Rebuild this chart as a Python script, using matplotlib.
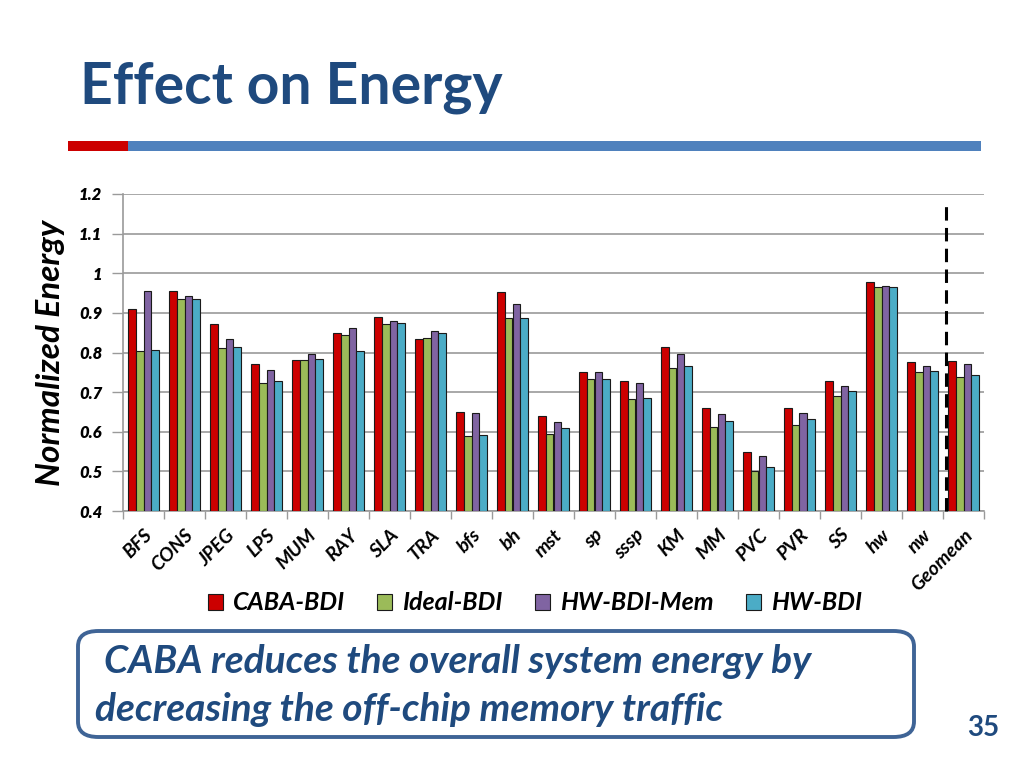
import matplotlib
matplotlib.use("Agg")
import matplotlib.pyplot as plt
import numpy as np
from matplotlib.patches import FancyBboxPatch, Rectangle

categories = ["BFS", "CONS", "JPEG", "LPS", "MUM", "RAY", "SLA", "TRA", "bfs", "bh",
              "mst", "sp", "sssp", "KM", "MM", "PVC", "PVR", "SS", "hw", "nw", "Geomean"]
series_names = ["CABA-BDI", "Ideal-BDI", "HW-BDI-Mem", "HW-BDI"]
caba_bdi   = [0.910, 0.956, 0.872, 0.772, 0.782, 0.850, 0.889, 0.833, 0.650, 0.953,
              0.641, 0.750, 0.729, 0.813, 0.660, 0.549, 0.660, 0.729, 0.978, 0.776, 0.778]
ideal_bdi  = [0.805, 0.935, 0.811, 0.724, 0.782, 0.845, 0.872, 0.836, 0.590, 0.887,
              0.595, 0.733, 0.682, 0.762, 0.612, 0.500, 0.616, 0.690, 0.965, 0.752, 0.739]
hw_bdi_mem = [0.955, 0.943, 0.834, 0.755, 0.797, 0.862, 0.880, 0.853, 0.647, 0.922,
              0.624, 0.751, 0.724, 0.797, 0.644, 0.539, 0.647, 0.715, 0.969, 0.765, 0.771]
hw_bdi     = [0.807, 0.935, 0.813, 0.729, 0.784, 0.803, 0.874, 0.850, 0.591, 0.887,
              0.610, 0.734, 0.684, 0.766, 0.628, 0.510, 0.631, 0.703, 0.966, 0.754, 0.744]
y_ticks = [0.4, 0.5, 0.6, 0.7, 0.8, 0.9, 1.0, 1.1, 1.2]
y_tick_labels = ["0.4", "0.5", "0.6", "0.7", "0.8", "0.9", "1", "1.1", "1.2"]

colors = ["#CC0000", "#9BBB59", "#8064A2", "#4BACC6"]
navy = "#1F4A7E"
FONT = ["Lato", "Open Sans", "DejaVu Sans"]

fig = plt.figure(figsize=(10.24, 7.68), dpi=100)
W, H = 1024, 768

def fx(px):
    return px / W

def fy(py):
    return 1 - py / H

# Title
fig.text(fx(80), fy(103), "Effect on Energy", fontsize=41, fontweight="bold",
         color=navy, family=FONT, ha="left", va="baseline")
# Header bars
fig.patches.append(Rectangle((fx(68), fy(151)), fx(128) - fx(68), 10 / H,
                             transform=fig.transFigure, color="#CC0000", lw=0))
fig.patches.append(Rectangle((fx(128), fy(151)), fx(981) - fx(128), 10 / H,
                             transform=fig.transFigure, color="#4F81BD", lw=0))

# Axes
ax = fig.add_axes([fx(123), fy(511), (984 - 123) / W, (511 - 194) / H])
x = np.arange(len(categories))
bw = 0.19
data = [caba_bdi, ideal_bdi, hw_bdi_mem, hw_bdi]
for i, (vals, c, name) in enumerate(zip(data, colors, series_names)):
    ax.bar(x + (i - 1.5) * bw, np.array(vals) - 0.4, bw, bottom=0.4, color=c,
           edgecolor="#1a1a1a", linewidth=0.8, label=name, zorder=3)

ax.set_ylim(0.4, 1.2)
ax.set_xlim(-0.5, len(categories) - 0.5)
ax.set_yticks(y_ticks)
ax.set_yticklabels(y_tick_labels)
for t in ax.get_yticklabels():
    t.set_fontweight("heavy"); t.set_fontstyle("italic"); t.set_family(FONT)
    t.set_fontsize(12)
ax.yaxis.grid(True, color="#9a9a9a", linewidth=1.2, zorder=0)
ax.set_axisbelow(True)
ax.tick_params(axis="y", length=8, width=1, color="#9a9a9a", pad=7)
ax.set_xticks(np.arange(len(categories) + 1) - 0.5)
ax.set_xticklabels([])
ax.tick_params(axis="x", length=6, width=1, color="#9a9a9a")
ax.set_xticks(x, minor=True)
ax.set_xticklabels(categories, minor=True, rotation=45, ha="right", va="top",
                   rotation_mode="anchor", fontsize=14, fontweight="bold",
                   fontstyle="italic", family=FONT)
ax.tick_params(axis="x", which="minor", length=0, pad=11)
for s in ["top", "right"]:
    ax.spines[s].set_visible(False)
for s in ["left", "bottom"]:
    ax.spines[s].set_color("#9a9a9a")
    ax.spines[s].set_linewidth(1.2)

ax.set_ylabel("Normalized Energy", fontsize=24, fontweight="bold", fontstyle="italic",
              family=FONT, labelpad=10)

# Dashed separator
ax.plot([19.58, 19.58], [0.4, 1.172], color="black", lw=2.2, ls=(0, (4.4, 2.4)),
        zorder=5, clip_on=False)

# Legend
handles = [Rectangle((0, 0), 1, 1, facecolor=c, edgecolor="#1a1a1a", lw=0.8) for c in colors]
leg = fig.legend(handles, series_names, loc="center", bbox_to_anchor=(fx(535), fy(603)),
                 ncol=4, frameon=False, handlelength=0.6, handleheight=0.6,
                 handletextpad=0.4, columnspacing=1.3,
                 prop={"family": FONT, "weight": "bold", "style": "italic", "size": 18})

# Callout box
box = FancyBboxPatch((fx(78), fy(737)), fx(914) - fx(78), (737 - 631) / H,
                     boxstyle="round,pad=0,rounding_size=0.02",
                     transform=fig.transFigure, facecolor="white",
                     edgecolor="#3F6496", linewidth=2.8)
fig.patches.append(box)
fig.text(fx(104), fy(673), "CABA reduces the overall system energy by", fontsize=28,
         fontweight="bold", fontstyle="italic", color=navy, family=FONT,
         ha="left", va="baseline")
fig.text(fx(95), fy(721), "decreasing the off-chip memory traffic", fontsize=28,
         fontweight="bold", fontstyle="italic", color=navy, family=FONT,
         ha="left", va="baseline")
fig.text(fx(983), fy(736), "35", fontsize=20, fontweight="bold", color=navy,
         family=FONT, ha="center", va="baseline")

fig.savefig("out.png", dpi=100)
